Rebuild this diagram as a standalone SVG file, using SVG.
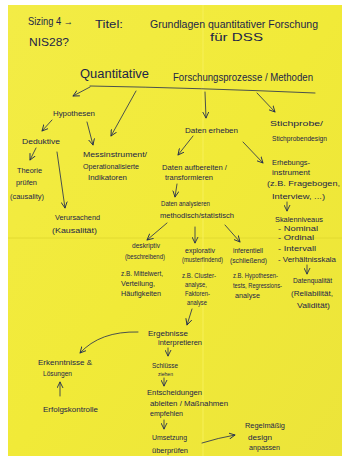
<svg xmlns="http://www.w3.org/2000/svg" width="342" height="463" viewBox="0 0 342 463">
<defs>
<linearGradient id="paper" x1="0" y1="0" x2="1" y2="1">
<stop offset="0" stop-color="#f3ec46"/>
<stop offset="0.5" stop-color="#f1ea38"/>
<stop offset="1" stop-color="#ece43a"/>
</linearGradient>
<marker id="ah" viewBox="0 0 8 8" refX="7" refY="4" markerWidth="7" markerHeight="7" orient="auto" markerUnits="userSpaceOnUse">
<path d="M0,0.5 L7,4 L0,7.5" fill="none" stroke="#1f2a52" stroke-width="1"/>
</marker>
</defs>
<style>
.t{font-family:"Liberation Sans","DejaVu Sans",sans-serif;font-size:7.5px;fill:#1c2548}
.s{font-size:7px}
.h{font-size:11px}
.c{fill:none;stroke:#1f2a52;stroke-width:0.8;stroke-linecap:round}
.a{marker-end:url(#ah)}
</style>
<rect x="0" y="0" width="342" height="463" fill="#ffffff"/>
<rect x="8" y="5" width="334" height="451" fill="url(#paper)"/>
<line x1="8" y1="238" x2="342" y2="238" stroke="#e2da30" stroke-width="1"/>
<line x1="203" y1="5" x2="203" y2="456" stroke="#f6f05a" stroke-width="1"/>

<g id="header">
<text class="t h" x="28" y="25" textLength="45" lengthAdjust="spacingAndGlyphs">Sizing 4 →</text>
<text class="t h" x="29" y="46" textLength="40" lengthAdjust="spacingAndGlyphs">NIS28?</text>
<text class="t h" x="95" y="28" textLength="28" lengthAdjust="spacingAndGlyphs">Titel:</text>
<text class="t h" x="150" y="28" textLength="168" lengthAdjust="spacingAndGlyphs">Grundlagen quantitativer Forschung</text>
<text class="t h" x="210" y="41" textLength="53" lengthAdjust="spacingAndGlyphs">für DSS</text>
</g>

<g id="root">
<text class="t" style="font-size:12px" x="80" y="78" textLength="69" lengthAdjust="spacingAndGlyphs">Quantitative</text>
<text class="t" style="font-size:10.5px" x="173" y="81" textLength="140" lengthAdjust="spacingAndGlyphs">Forschungsprozesse / Methoden</text>
</g>

<g id="hypothesen"><text class="t" x="53" y="116" textLength="42" lengthAdjust="spacingAndGlyphs">Hypothesen</text></g>
<g id="deduktive"><text class="t" x="22" y="144" textLength="38" lengthAdjust="spacingAndGlyphs">Deduktive</text></g>
<g id="theorie">
<text class="t" x="17" y="173" textLength="25" lengthAdjust="spacingAndGlyphs">Theorie</text>
<text class="t" x="16" y="185" textLength="21" lengthAdjust="spacingAndGlyphs">prüfen</text>
<text class="t" x="10" y="199" textLength="34" lengthAdjust="spacingAndGlyphs">(causality)</text>
</g>
<g id="messinstrument">
<text class="t" x="83" y="157" textLength="64" lengthAdjust="spacingAndGlyphs">Messinstrument/</text>
<text class="t" x="83" y="169" textLength="56" lengthAdjust="spacingAndGlyphs">Operationalisierte</text>
<text class="t" x="88" y="180" textLength="39" lengthAdjust="spacingAndGlyphs">Indikatoren</text>
</g>
<g id="verursachend">
<text class="t" x="55" y="220" textLength="45" lengthAdjust="spacingAndGlyphs">Verursachend</text>
<text class="t" x="52" y="233" textLength="45" lengthAdjust="spacingAndGlyphs">(Kausalität)</text>
</g>
<g id="daten-erheben"><text class="t" x="185" y="133" textLength="53" lengthAdjust="spacingAndGlyphs">Daten erheben</text></g>
<g id="stichprobe">
<text class="t" x="270" y="126" textLength="53" lengthAdjust="spacingAndGlyphs">Stichprobe/</text>
<text class="t" x="272" y="141" textLength="55" lengthAdjust="spacingAndGlyphs">Stichprobendesign</text>
</g>
<g id="aufbereiten">
<text class="t" x="162" y="170" textLength="65" lengthAdjust="spacingAndGlyphs">Daten aufbereiten /</text>
<text class="t" x="165" y="180" textLength="48" lengthAdjust="spacingAndGlyphs">transformieren</text>
</g>
<g id="analysieren">
<text class="t" x="161" y="206" textLength="49" lengthAdjust="spacingAndGlyphs">Daten analysieren</text>
<text class="t" x="160" y="218" textLength="74" lengthAdjust="spacingAndGlyphs">methodisch/statistisch</text>
</g>
<g id="erhebungsinstrument">
<text class="t" x="272" y="165" textLength="38" lengthAdjust="spacingAndGlyphs">Erhebungs-</text>
<text class="t" x="272" y="175" textLength="38" lengthAdjust="spacingAndGlyphs">instrument</text>
<text class="t" x="267" y="186" textLength="73" lengthAdjust="spacingAndGlyphs">(z.B. Fragebogen,</text>
<text class="t" x="272" y="199" textLength="53" lengthAdjust="spacingAndGlyphs">Interview, ...)</text>
</g>
<g id="skalenniveaus">
<text class="t" x="275" y="222" textLength="48" lengthAdjust="spacingAndGlyphs">Skalenniveaus</text>
<text class="t s" x="278" y="231" textLength="40" lengthAdjust="spacingAndGlyphs">- Nominal</text>
<text class="t s" x="278" y="240" textLength="36" lengthAdjust="spacingAndGlyphs">- Ordinal</text>
<text class="t s" x="278" y="251" textLength="38" lengthAdjust="spacingAndGlyphs">- Intervall</text>
<text class="t s" x="278" y="262" textLength="58" lengthAdjust="spacingAndGlyphs">- Verhältnisskala</text>
</g>
<g id="datenqualitaet">
<text class="t" x="293" y="283" textLength="39" lengthAdjust="spacingAndGlyphs">Datenqualität</text>
<text class="t" x="291" y="296" textLength="42" lengthAdjust="spacingAndGlyphs">(Reliabilität,</text>
<text class="t" x="297" y="308" textLength="33" lengthAdjust="spacingAndGlyphs">Validität)</text>
</g>
<g id="deskriptiv">
<text class="t s" x="132" y="248" textLength="28" lengthAdjust="spacingAndGlyphs">deskriptiv</text>
<text class="t s" x="125" y="259" textLength="40" lengthAdjust="spacingAndGlyphs">(beschreibend)</text>
<text class="t s" x="121" y="276" textLength="42" lengthAdjust="spacingAndGlyphs">z.B. Mittelwert,</text>
<text class="t s" x="121" y="286" textLength="34" lengthAdjust="spacingAndGlyphs">Verteilung,</text>
<text class="t s" x="121" y="296" textLength="40" lengthAdjust="spacingAndGlyphs">Häufigkeiten</text>
</g>
<g id="explorativ">
<text class="t s" x="185" y="253" textLength="30" lengthAdjust="spacingAndGlyphs">explorativ</text>
<text class="t s" x="182" y="262" textLength="41" lengthAdjust="spacingAndGlyphs">(musterfindend)</text>
<text class="t s" x="182" y="278" textLength="34" lengthAdjust="spacingAndGlyphs">z.B. Cluster-</text>
<text class="t s" x="185" y="287" textLength="22" lengthAdjust="spacingAndGlyphs">analyse,</text>
<text class="t s" x="185" y="296" textLength="25" lengthAdjust="spacingAndGlyphs">Faktoren-</text>
<text class="t s" x="187" y="305" textLength="20" lengthAdjust="spacingAndGlyphs">analyse</text>
</g>
<g id="inferentiell">
<text class="t s" x="233" y="253" textLength="30" lengthAdjust="spacingAndGlyphs">inferentiell</text>
<text class="t s" x="230" y="263" textLength="37" lengthAdjust="spacingAndGlyphs">(schließend)</text>
<text class="t s" x="233" y="278" textLength="45" lengthAdjust="spacingAndGlyphs">z.B. Hypothesen-</text>
<text class="t s" x="233" y="288" textLength="49" lengthAdjust="spacingAndGlyphs">tests, Regressions-</text>
<text class="t s" x="235" y="298" textLength="25" lengthAdjust="spacingAndGlyphs">analyse</text>
</g>
<g id="ergebnisse">
<text class="t" x="148" y="336" textLength="40" lengthAdjust="spacingAndGlyphs">Ergebnisse</text>
<text class="t s" x="158" y="345" textLength="44" lengthAdjust="spacingAndGlyphs">interpretieren</text>
</g>
<g id="erkenntnisse">
<text class="t" x="38" y="365" textLength="54" lengthAdjust="spacingAndGlyphs">Erkenntnisse &amp;</text>
<text class="t" x="43" y="376" textLength="29" lengthAdjust="spacingAndGlyphs">Lösungen</text>
</g>
<g id="erfolgskontrolle"><text class="t" x="43" y="412" textLength="55" lengthAdjust="spacingAndGlyphs">Erfolgskontrolle</text></g>
<g id="schluesse">
<text class="t" x="152" y="368" textLength="26" lengthAdjust="spacingAndGlyphs">Schlüsse</text>
<text class="t" style="font-size:6px" x="158" y="376" textLength="15" lengthAdjust="spacingAndGlyphs">ziehen</text>
</g>
<g id="entscheidungen">
<text class="t" x="147" y="395" textLength="55" lengthAdjust="spacingAndGlyphs">Entscheidungen</text>
<text class="t" x="150" y="406" textLength="78" lengthAdjust="spacingAndGlyphs">ableiten / Maßnahmen</text>
<text class="t" x="150" y="416" textLength="33" lengthAdjust="spacingAndGlyphs">empfehlen</text>
</g>
<g id="umsetzung">
<text class="t" x="152" y="440" textLength="35" lengthAdjust="spacingAndGlyphs">Umsetzung</text>
<text class="t" x="152" y="453" textLength="36" lengthAdjust="spacingAndGlyphs">überprüfen</text>
</g>
<g id="regelmaessig">
<text class="t" x="245" y="428" textLength="40" lengthAdjust="spacingAndGlyphs">Regelmäßig</text>
<text class="t" x="248" y="440" textLength="24" lengthAdjust="spacingAndGlyphs">design</text>
<text class="t" x="249" y="450" textLength="31" lengthAdjust="spacingAndGlyphs">anpassen</text>
</g>

<g id="connectors">
<path class="c" d="M90,86 Q200,88 315,93"/>
<path class="c a" d="M90,87 L73,96"/>
<path class="c a" d="M136,91 L111,136"/>
<path class="c a" d="M205,92 L206,118"/>
<path class="c a" d="M257,93 L275,112"/>
<path class="c a" d="M52,120 L42,131"/>
<path class="c a" d="M87,122 L93,145"/>
<path class="c a" d="M36,148 L30,160"/>
<path class="c a" d="M57,152 L65,208"/>
<path class="c a" d="M193,136 L178,155"/>
<path class="c a" d="M243,142 L263,163"/>
<path class="c a" d="M177,184 L175,197"/>
<path class="c a" d="M287,202 L287,211"/>
<path class="c a" d="M307,265 L307,274"/>
<path class="c a" d="M167,223 L147,240"/>
<path class="c a" d="M195,227 L195,243"/>
<path class="c a" d="M225,225 L240,242"/>
<path class="c a" d="M192,309 L187,325"/>
<path class="c a" d="M138,332 Q100,331 80,353"/>
<path class="c a" d="M60,396 L60,382"/>
<path class="c a" d="M168,348 L168,356"/>
<path class="c a" d="M164,378 L164,386"/>
<path class="c a" d="M164,420 L164,429"/>
<path class="c a" d="M202,443 Q218,438 235,435"/>
</g>
</svg>
